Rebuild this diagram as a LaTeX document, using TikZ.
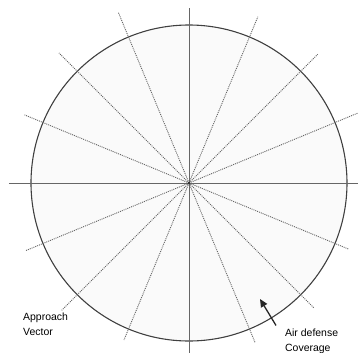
\documentclass[tikz,border=0pt]{standalone}
\usepackage{fontspec}
\setmainfont{Liberation Sans}
\usetikzlibrary{arrows.meta}
\tikzset{
  rim/.style={draw=black!75, line width=1.1pt, fill=black!2},
  axis/.style={draw=black!60, line width=0.7pt},
  ray/.style={draw=black!60, line width=0.9pt, dash pattern=on 1pt off 1pt},
  lbl/.style={anchor=west, align=left, inner sep=0pt, font=\fontsize{10.5}{15}\selectfont}
}
\begin{document}
\begin{tikzpicture}[x=1bp, y=1bp]
\useasboundingbox (-189,-170) rectangle (169,183);
\coordinate (o) at (0,0);
\path[rim] (o) circle (158);
\draw[axis] (-180,0) -- (169,0);
\draw[axis] (0,175) -- (0,-170);
\foreach \a/\r/\s in {22.5/184/177, 45/182/180, 67.5/180/170, 112.5/185/173, 135/184/177, 157.5/178/173}
  \draw[ray] (o) -- (\a:\r) (o) -- (\a+180:\s);
\fill[black!80] (o) circle (1.5);
\node[lbl] (apv) at (-166,-141) {Approach\\Vector};
\node[lbl] (cov) at (96,-158) {Air defense\\Coverage};
\coordinate (tip) at (71,-116);
\draw[-{Triangle[length=8bp,width=7bp]}, line width=1.3pt, black!85] ([shift={(-9,3)}]cov.north west) -- (tip);
\end{tikzpicture}
\end{document}
